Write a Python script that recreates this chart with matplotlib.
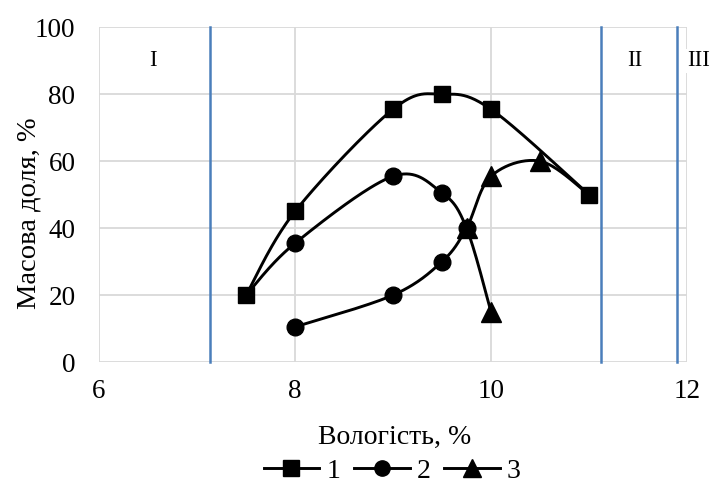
import numpy as np
import matplotlib
matplotlib.use("Agg")
import matplotlib.pyplot as plt
from matplotlib.lines import Line2D

# ---- data ----
s1_x = [7.5, 8, 9, 9.5, 10, 11]
s1_y = [20, 45, 75.5, 80, 75.5, 50]
s2_x = [7.5, 8, 9, 9.5, 9.75, 10]
s2_y = [20, 35.5, 55.5, 50.5, 40, 15]
s3_x = [8, 9, 9.5, 9.75, 10, 10.5, 11]
s3_y = [10.5, 20, 30, 40, 55.5, 60, 50]
zone_x = [7.13, 11.12, 11.9]
zone_labels = ["I", "II", "III"]
zone_label_x = [6.55, 11.47, 12.12]
series_labels = ["1", "2", "3"]
x_ticks = [6, 8, 10, 12]
y_ticks = [0, 20, 40, 60, 80, 100]

# per-point marker styles (as drawn in the reference)
s1_m = ["s"] * 6
s2_m = [None, "o", "o", "o", "o", "^"]
s3_m = ["o", "o", "o", "^", "^", "^", None]

plt.rcParams["font.family"] = ["Liberation Serif", "DejaVu Serif"]

fig = plt.figure(figsize=(7.13, 4.86), dpi=100)
ax = fig.add_axes([0.139, 0.255, 0.9635 - 0.139, 0.944 - 0.255])
ax.set_xlim(6, 12)
ax.set_ylim(0, 100)

XS, YS = 588 / 6.0, 335 / 100.0


def smooth(xs, ys, n=40):
    P = np.column_stack([np.array(xs) * XS, np.array(ys) * YS])
    m = len(P)
    out = []
    for i in range(m - 1):
        p0 = P[i - 1] if i > 0 else P[i]
        p1 = P[i]
        p2 = P[i + 1]
        p3 = P[i + 2] if i + 2 < m else P[i + 1]
        c1 = p1 + (p2 - p0) / 6.0
        c2 = p2 - (p3 - p1) / 6.0
        t = np.linspace(0, 1, n)[:, None]
        seg = ((1 - t) ** 3) * p1 + 3 * ((1 - t) ** 2) * t * c1 + 3 * (1 - t) * t ** 2 * c2 + t ** 3 * p2
        out.append(seg if i == 0 else seg[1:])
    out = np.vstack(out)
    return out[:, 0] / XS, out[:, 1] / YS


# grid
for yv in y_ticks:
    ax.axhline(yv, color="#d9d9d9", lw=1.3, zorder=0)
for xv in x_ticks:
    ax.axvline(xv, color="#d9d9d9", lw=1.3, zorder=0)
for s in ax.spines.values():
    s.set_visible(False)
ax.set_xticks(x_ticks)
ax.set_yticks(y_ticks)
ax.tick_params(length=0, labelsize=19.5)
ax.tick_params(axis="x", pad=12)
ax.tick_params(axis="y", pad=17)

# zone lines
for zx in zone_x:
    ax.plot([zx, zx], [0, 100], color="#4a7ebb", lw=1.8, zorder=1, clip_on=False)
for lab, lx in zip(zone_labels, zone_label_x):
    ax.text(lx, 90, lab, ha="center", va="center", fontsize=16.5, zorder=5,
            bbox=dict(facecolor="white", edgecolor="none", pad=1) if lab == "III" else None,
            clip_on=False)

lw = 2.1
ms = 12
for xs, ys, mk, z in [(s3_x, s3_y, s3_m, 3), (s2_x, s2_y, s2_m, 4), (s1_x, s1_y, s1_m, 6)]:
    sx, sy = smooth(xs, ys)
    ax.plot(sx, sy, color="black", lw=lw, zorder=z, clip_on=False)
    for x, y, m in zip(xs, ys, mk):
        if m is None:
            continue
        size = ms + 2 if m == "^" else ms
        ax.plot([x], [y], marker=m, color="black", ms=size, zorder=z + 0.5, clip_on=False, lw=0)

fig.text(0.554, 0.099, "Вологість, %", fontsize=20, ha="center", va="center")
fig.text(0.040, 0.562, "Масова доля, %", fontsize=20.5, ha="center", va="center", rotation=90)

handles = [Line2D([0], [0], color="black", lw=lw, marker=m, ms=(ms - 1 if m != "^" else ms + 1))
           for m in ["s", "o", "^"]]
leg = fig.legend(handles, series_labels, loc="center", bbox_to_anchor=(0.55, 0.031), ncol=3,
                 frameon=False, fontsize=20, handlelength=2.0, columnspacing=0.5,
                 handletextpad=0.25, borderpad=0.1)

fig.savefig("out.png", dpi=100)
